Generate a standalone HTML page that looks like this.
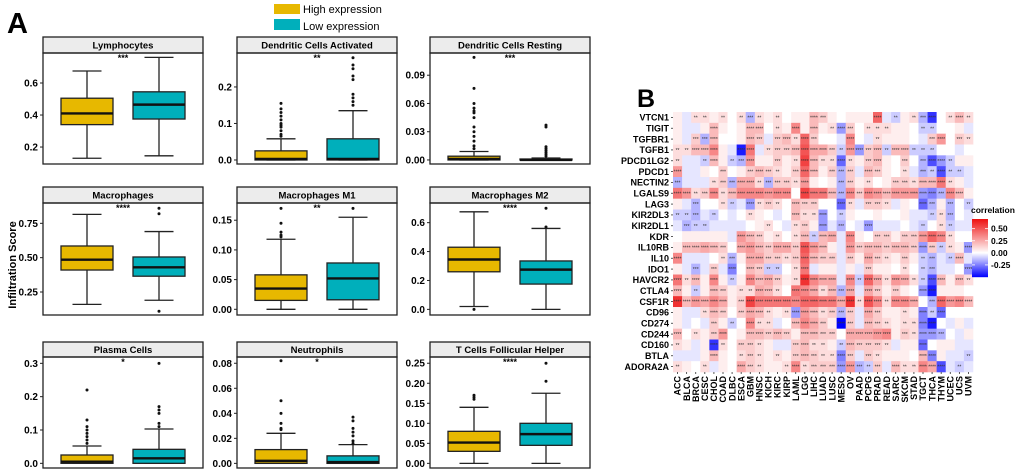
<!DOCTYPE html>
<html><head><meta charset="utf-8">
<style>
html,body{margin:0;padding:0;background:#fff;}
svg{display:block;font-family:"Liberation Sans",Arial,sans-serif;}
</style></head>
<body>
<svg id="fig" width="1020" height="473" viewBox="0 0 1020 473" xmlns="http://www.w3.org/2000/svg">
<text x="7" y="33" font-size="29" font-weight="bold">A</text>
<text x="637" y="107" font-size="25" font-weight="bold">B</text>
<g>
<rect x="274" y="4" width="26" height="10" fill="#E7B800"/>
<text x="303" y="13" font-size="11">High expression</text>
<rect x="274" y="19" width="26" height="11" fill="#00AFBB"/>
<text x="303" y="30" font-size="11">Low expression</text>
</g>
<text transform="translate(16,265) rotate(-90)" text-anchor="middle" font-size="11" font-weight="bold">Infiltration Score</text>
<g id="boxes"></g>
<g id="heat"></g>
</svg>
<script>
// ---------- Panel A data ----------
const panelTitles = ["Lymphocytes","Dendritic Cells Activated","Dendritic Cells Resting","Macrophages","Macrophages M1","Macrophages M2","Plasma Cells","Neutrophils","T Cells Follicular Helper"];
const panelStars = ["***","**","***","****","**","****","*","*","****"];
// [whiskerLow, q1, median, q3, whiskerHigh]
const highStats = [
 [0.13,0.34,0.41,0.505,0.675],
 [0,0,0.003,0.025,0.058],
 [0,0,0.001,0.004,0.009],
 [0.16,0.41,0.485,0.585,0.815],
 [0,0.015,0.035,0.058,0.118],
 [0.02,0.26,0.345,0.43,0.675],
 [0,0,0.005,0.025,0.052],
 [0,0,0.002,0.011,0.024],
 [0,0.03,0.052,0.08,0.14]
];
const lowStats = [
 [0.145,0.375,0.465,0.545,0.76],
 [0,0,0.003,0.058,0.135],
 [0,0,0,0.001,0.002],
 [0.19,0.365,0.43,0.505,0.69],
 [0,0.016,0.052,0.078,0.155],
 [0,0.175,0.275,0.335,0.56],
 [0,0,0.015,0.042,0.103],
 [0,0,0.001,0.006,0.015],
 [0,0.045,0.073,0.1,0.175]
];
const highOutliers = [
 [],
 [0.065,0.07,0.08,0.09,0.095,0.1,0.11,0.12,0.13,0.14,0.155],
 [0.012,0.015,0.02,0.025,0.03,0.035,0.045,0.05,0.052,0.055,0.06,0.076,0.109],
 [],
 [0.122,0.125,0.13,0.145,0.17],
 [0],
 [0.06,0.07,0.08,0.09,0.1,0.11,0.13,0.22],
 [0.027,0.028,0.032,0.04,0.05,0.082],
 [0.16,0.165,0.17]
];
const lowOutliers = [
 [],
 [0.15,0.16,0.17,0.18,0.22,0.23,0.25,0.26,0.28],
 [0.004,0.006,0.008,0.01,0.012,0.014,0.035,0.037],
 [0.11,0.82,0.86],
 [0.17],
 [0.57,0.7],
 [0.11,0.12,0.15,0.16,0.17,0.3],
 [0.016,0.018,0.022,0.025,0.028,0.034,0.037],
 [0.205,0.25]
];
const tickLabels = [
 ["0.2","0.4","0.6"],["0.0","0.1","0.2"],["0.00","0.03","0.06","0.09"],
 ["0.25","0.50","0.75"],["0.00","0.05","0.10","0.15"],["0.0","0.2","0.4","0.6"],
 ["0.0","0.1","0.2","0.3"],["0.00","0.02","0.04","0.06","0.08"],["0.00","0.05","0.10","0.15","0.20","0.25"]
];
const yDomains = [[0.094,0.7875],[-0.011,0.293],[-0.0043,0.1136],[0.0825,0.898],[-0.0096,0.179],[-0.039,0.736],[-0.014,0.319],[-0.0037,0.085],[-0.0116,0.2656]];

// layout (not data)
const colX = [43,237,430];
const rowGeom = [[37,53,164],[187,203,315],[342,357,468]];
const NS="http://www.w3.org/2000/svg";
function mk(tag,attrs,parent){const e=document.createElementNS(NS,tag);for(const k in attrs)e.setAttribute(k,attrs[k]);parent.appendChild(e);return e;}
const boxesG=document.getElementById('boxes');
const HIGH="#E7B800", LOW="#00AFBB";
for(let p=0;p<9;p++){
  const x0=colX[p%3], g=rowGeom[Math.floor(p/3)];
  const sTop=g[0], pTop=g[1], pBot=g[2];
  const dom=yDomains[p];
  const y=v=>pBot-(v-dom[0])/(dom[1]-dom[0])*(pBot-pTop);
  const pg=mk('g',{},boxesG);
  
  
  const strip=mk('rect',{x:x0,y:sTop,width:160,height:pTop-sTop,fill:'#ececec',stroke:'#222','stroke-width':1.3},pg);
  
  
  const st=mk('text',{x:x0+80,y:(sTop+pTop)/2+3.5,'text-anchor':'middle','font-size':9.5,'font-weight':'bold'},pg);
  st.textContent=panelTitles[p];
  
  
  const fr=mk('rect',{x:x0,y:pTop,width:160,height:pBot-pTop,fill:'none',stroke:'#222','stroke-width':1.3},pg);
  
  
  tickLabels[p].forEach(t=>{
    const yy=y(parseFloat(t));
    const tl=mk('line',{x1:x0-3,x2:x0,y1:yy,y2:yy,stroke:'#222','stroke-width':1},pg);
    
    
    const tt=mk('text',{x:x0-5,y:yy+3.5,'text-anchor':'end','font-size':10,'font-weight':'bold'},pg);
    tt.textContent=t;
    
    
  });
  const sg=mk('text',{x:x0+80,y:pTop+8,'text-anchor':'middle','font-size':9,'font-weight':'bold'},pg);
  sg.textContent=panelStars[p];
  
  
  [[highStats[p],highOutliers[p],HIGH,0.275,'high'],[lowStats[p],lowOutliers[p],LOW,0.725,'low']].forEach(([s,o,col,f,nm])=>{
    const cx=x0+160*f, hw=26, cw=14.5;
    const bg=mk('g',{},pg);
    
    
    mk('line',{x1:cx,x2:cx,y1:y(s[0]),y2:y(s[1]),stroke:'#222','stroke-width':1.3},bg);
    mk('line',{x1:cx,x2:cx,y1:y(s[3]),y2:y(s[4]),stroke:'#222','stroke-width':1.3},bg);
    mk('line',{x1:cx-cw,x2:cx+cw,y1:y(s[0]),y2:y(s[0]),stroke:'#222','stroke-width':1.3},bg);
    mk('line',{x1:cx-cw,x2:cx+cw,y1:y(s[4]),y2:y(s[4]),stroke:'#222','stroke-width':1.3},bg);
    mk('rect',{x:cx-hw,y:y(s[3]),width:2*hw,height:Math.max(1,y(s[1])-y(s[3])),fill:col,stroke:'#222','stroke-width':1.3},bg);
    mk('line',{x1:cx-hw,x2:cx+hw,y1:y(s[2]),y2:y(s[2]),stroke:'#111','stroke-width':2.4},bg);
    o.forEach(v=>{
      const c=mk('circle',{cx:cx,cy:y(v),r:1.5,fill:'#111'},bg);
      
      
    });
  });
}

// ---------- Panel B heatmap ----------
const genes = ["VTCN1","TIGIT","TGFBR1","TGFB1","PDCD1LG2","PDCD1","NECTIN2","LGALS9","LAG3","KIR2DL3","KIR2DL1","KDR","IL10RB","IL10","IDO1","HAVCR2","CTLA4","CSF1R","CD96","CD274","CD244","CD160","BTLA","ADORA2A"];
const cancers = ["ACC","BLCA","BRCA","CESC","CHOL","COAD","DLBC","ESCA","GBM","HNSC","KICH","KIRC","KIRP","LAML","LGG","LIHC","LUAD","LUSC","MESO","OV","PAAD","PCPG","PRAD","READ","SARC","SKCM","STAD","TGCT","THCA","THYM","UCEC","UCS","UVM"];
const r_VTCN1   = [.05,-.05,.1,.1,.05,.1,0,.1,-.15,.1,.05,.1,0,.05,.05,.2,.15,.05,0,.05,.05,.05,.45,-.05,-.1,.05,.1,-.15,-.4,0,.1,.2,.1];
const r_TIGIT   = [.05,-.05,-.05,.05,.2,.05,0,.05,.2,.2,0,.1,.05,.35,.05,.2,.05,.1,-.2,.15,0,.1,.1,.1,.05,.05,0,-.1,-.1,0,0,.05,-.05];
const r_TGFBR1  = [.05,-.05,.15,-.15,.2,0,0,.05,.2,.15,-.05,.15,.2,.1,.45,.15,0,0,-.05,.35,0,-.05,.1,.05,.05,.05,0,-.05,.15,.3,0,.15,.1];
const r_TGFB1   = [.1,.1,.2,.2,.35,.05,-.05,-.45,.4,-.05,.1,.15,.15,.2,.5,.25,.25,.15,-.1,.3,-.2,.15,.2,-.1,.2,.2,-.1,-.1,-.1,0,0,-.05,0];
const r_PDCD1LG2= [.1,-.05,-.05,-.1,.2,.05,-.1,-.15,.3,.05,.05,.15,.05,.1,.55,.2,.1,.1,-.3,.1,.05,.15,.2,.05,0,.15,0,-.15,-.35,-.2,-.1,.05,.05];
const r_PDCD1   = [.3,-.05,-.05,.05,0,.15,0,.05,.15,.2,.15,.1,.05,.15,.45,.2,.05,.15,-.15,.15,-.05,.2,.15,.05,0,.1,-.05,-.15,-.1,-.35,-.1,-.1,-.05];
const r_NECTIN2 = [-.15,-.05,-.05,-.05,.1,.15,-.15,.25,.25,.1,-.15,.15,.15,.1,.3,.05,0,.05,-.15,.15,.05,.1,0,.05,.15,.15,.1,.2,.2,.4,.1,.05,-.05];
const r_LGALS9  = [.4,.3,.1,.15,.35,.1,.2,.35,.35,.35,.3,.35,.35,0,.55,.4,.4,.2,-.15,.35,.15,.35,.3,.2,.3,.3,.3,-.2,-.25,-.15,.35,.2,.05];
const r_LAG3    = [.05,-.05,-.15,0,0,.1,-.1,-.05,-.2,.1,.15,.1,0,.2,.15,.15,0,0,-.3,.1,-.05,.15,.15,.1,-.05,.05,0,-.3,-.15,.05,-.15,0,-.1];
const r_KIR2DL3 = [-.1,-.1,-.15,-.05,-.1,0,-.05,0,.1,.05,0,-.05,0,.2,.1,.1,-.2,0,-.1,.05,0,0,.05,0,0,.05,-.05,-.05,-.1,.1,-.15,0,-.05];
const r_KIR2DL1 = [-.05,-.15,-.1,-.1,-.05,-.05,-.05,-.05,0,.05,.1,0,-.05,.1,.15,.05,-.2,-.05,-.15,0,-.05,-.2,-.05,-.05,-.05,0,-.05,-.1,0,.1,-.1,-.05,-.05];
const r_KDR     = [0,.05,.05,.05,.05,.05,-.05,.3,.2,.15,.05,.1,0,.1,.2,-.1,.2,.25,-.05,.35,.05,0,.15,.15,.05,.15,.15,.3,.45,.35,.1,0,0];
const r_IL10RB  = [.05,.2,.2,.25,.2,.15,0,.25,.3,.2,.15,.25,.25,.15,.5,.3,.2,.05,-.05,.3,.15,.2,.2,.15,.2,.2,.15,-.2,.15,-.1,.1,.05,-.2];
const r_IL10    = [.35,-.05,-.05,-.05,0,.1,-.15,.05,.25,.25,.15,.15,.1,.15,.45,.2,.15,.15,-.05,.15,.05,.25,.15,.1,.05,.15,.05,-.1,-.15,-.05,-.1,.2,-.05];
const r_IDO1    = [.05,-.05,-.15,-.05,.15,-.05,-.25,0,.2,.15,-.1,-.1,0,.1,.4,-.05,.05,.05,-.05,.05,-.05,.15,.05,.05,0,.1,0,-.1,-.15,-.05,-.05,0,-.2];
const r_HAVCR2  = [.4,.1,.2,.05,.35,.05,-.1,.05,.35,.2,.25,.15,.05,.1,.6,.35,.25,.25,-.05,.35,-.1,.45,.25,.1,.3,.25,.1,-.1,-.35,.2,.05,.2,.1];
const r_CTLA4   = [.2,.05,-.1,.05,.2,.15,.05,.1,.1,.25,.2,.1,0,.4,.35,.25,.1,.2,-.15,.25,-.05,.25,.15,.05,.15,.05,0,-.2,-.45,.05,.05,.05,0];
const r_CSF1R   = [.6,.2,.3,.25,.35,.25,.05,.15,.55,.4,.4,.4,.4,.35,.45,.45,.4,.4,.25,.6,.1,.5,.35,.1,.35,.35,.25,0,-.15,.45,.3,.35,.2];
const r_CD96    = [.05,-.05,-.05,.1,.2,.15,0,.15,.25,.2,.1,.05,.1,-.2,.3,.2,.1,.15,-.15,.15,-.05,.25,.15,.05,.05,.1,.05,-.25,-.1,-.3,0,0,0];
const r_CD274   = [.05,-.05,0,-.05,.15,.05,-.1,0,.35,.1,.1,-.05,0,.2,.35,.25,.15,.05,-.6,.15,-.05,.2,.15,.1,.05,.1,.1,-.25,-.45,0,-.05,.05,-.05];
const r_CD244   = [.2,0,.1,.05,.15,.3,0,.05,.2,.2,.15,.2,.15,.05,.2,.2,.15,.15,0,.25,.25,.25,.3,.35,.05,.15,.1,-.2,-.2,-.15,0,-.05,.05];
const r_CD160   = [.1,.05,-.05,.05,-.4,.1,0,.15,.15,.1,.05,-.05,-.05,.15,.2,.1,.1,.05,-.1,.2,.15,.15,.15,.1,-.05,.05,.05,-.3,0,.05,.05,-.05,-.05];
const r_BTLA    = [-.05,-.05,-.05,.05,.2,.05,0,.1,.15,.1,.05,.1,.05,.15,.2,.15,.1,.1,-.25,.15,-.05,.15,.1,.05,.05,.05,0,.2,-.25,.05,-.05,-.05,-.1];
const r_ADORA2A = [.1,.05,0,.1,-.05,.05,0,.25,.15,.1,.05,.05,.1,.35,.1,.15,.15,.15,-.2,.3,-.15,-.1,.15,-.05,.2,.1,.1,.35,.25,-.35,-.05,-.1,-.05];
const corrRows = [r_VTCN1,r_TIGIT,r_TGFBR1,r_TGFB1,r_PDCD1LG2,r_PDCD1,r_NECTIN2,r_LGALS9,r_LAG3,r_KIR2DL3,r_KIR2DL1,r_KDR,r_IL10RB,r_IL10,r_IDO1,r_HAVCR2,r_CTLA4,r_CSF1R,r_CD96,r_CD274,r_CD244,r_CD160,r_BTLA,r_ADORA2A];
const legendTicks = ["0.50","0.25","0.00","-0.25"];

const hx0=673, hx1=973, hy0=112, hy1=372;
const cw=(hx1-hx0)/cancers.length, ch=(hy1-hy0)/genes.length;
const cmax=0.7, cmin=-0.5;
function color(v){
  let t;
  if(v>=0){t=Math.min(1,v/cmax);return `rgb(${Math.round(255-t*17)},${Math.round(255-t*240)},${Math.round(255-t*240)})`;}
  t=Math.min(1,-v/(-cmin));return `rgb(${Math.round(255-t*255)},${Math.round(255-t*255)},255)`;
}
function starsFor(v){const a=Math.abs(v);return a>=0.2?"****":a>=0.15?"***":a>=0.1?"**":a>=0.06?"*":"";}
const hg=document.getElementById('heat');
const xCol=j=>hx0+j*cw, yRow=i=>hy0+i*ch;
corrRows.forEach((row,i)=>{
  row.forEach((v,j)=>{
    const r=mk('rect',{x:xCol(j),y:yRow(i),width:cw+0.3,height:ch+0.3,fill:color(v)},hg);
    
    
    const s=starsFor(v);
    if(s){const t=mk('text',{x:xCol(j)+cw/2,y:yRow(i)+ch/2+2,'text-anchor':'middle','font-size':5,fill:'#333'},hg);t.textContent=s;
      
      }
  });
});
genes.forEach((gname,i)=>{
  const t=mk('text',{x:hx0-4,y:yRow(i)+ch/2+3.2,'text-anchor':'end','font-size':9,'font-weight':'bold'},hg);
  t.textContent=gname;
  
  
  mk('line',{x1:hx0-2,x2:hx0,y1:yRow(i)+ch/2,y2:yRow(i)+ch/2,stroke:'#333','stroke-width':0.8},hg);
});
cancers.forEach((c,j)=>{
  const cx=xCol(j)+cw/2;
  mk('line',{x1:cx,x2:cx,y1:hy1,y2:hy1+2,stroke:'#333','stroke-width':0.8},hg);
  const t=mk('text',{transform:`translate(${cx+3.2},${hy1+4}) rotate(-90)`,'text-anchor':'end','font-size':9,'font-weight':'bold'},hg);
  t.textContent=c;
  
  
});
const lg=mk('g',{},hg);


const lt=mk('text',{x:971,y:213,'font-size':8.5,'font-weight':'bold'},lg);lt.textContent='correlation';
const by0=219, by1=277;
const yLeg=v=>by1-(v-cmin)/(cmax-cmin)*(by1-by0);
for(let k=0;k<58;k++){const v=cmax-(k+0.5)/58*(cmax-cmin);mk('rect',{x:972,y:by0+k,width:16,height:1.2,fill:color(v)},lg);}
legendTicks.forEach(t=>{const yy=yLeg(parseFloat(t));
  mk('line',{x1:972,x2:975,y1:yy,y2:yy,stroke:'#fff','stroke-width':0.8},lg);
  mk('line',{x1:985,x2:988,y1:yy,y2:yy,stroke:'#fff','stroke-width':0.8},lg);
  const tt=mk('text',{x:991,y:yy+3,'font-size':8.5,'font-weight':'bold'},lg);tt.textContent=t;
  
  
});
</script>
</body></html>
